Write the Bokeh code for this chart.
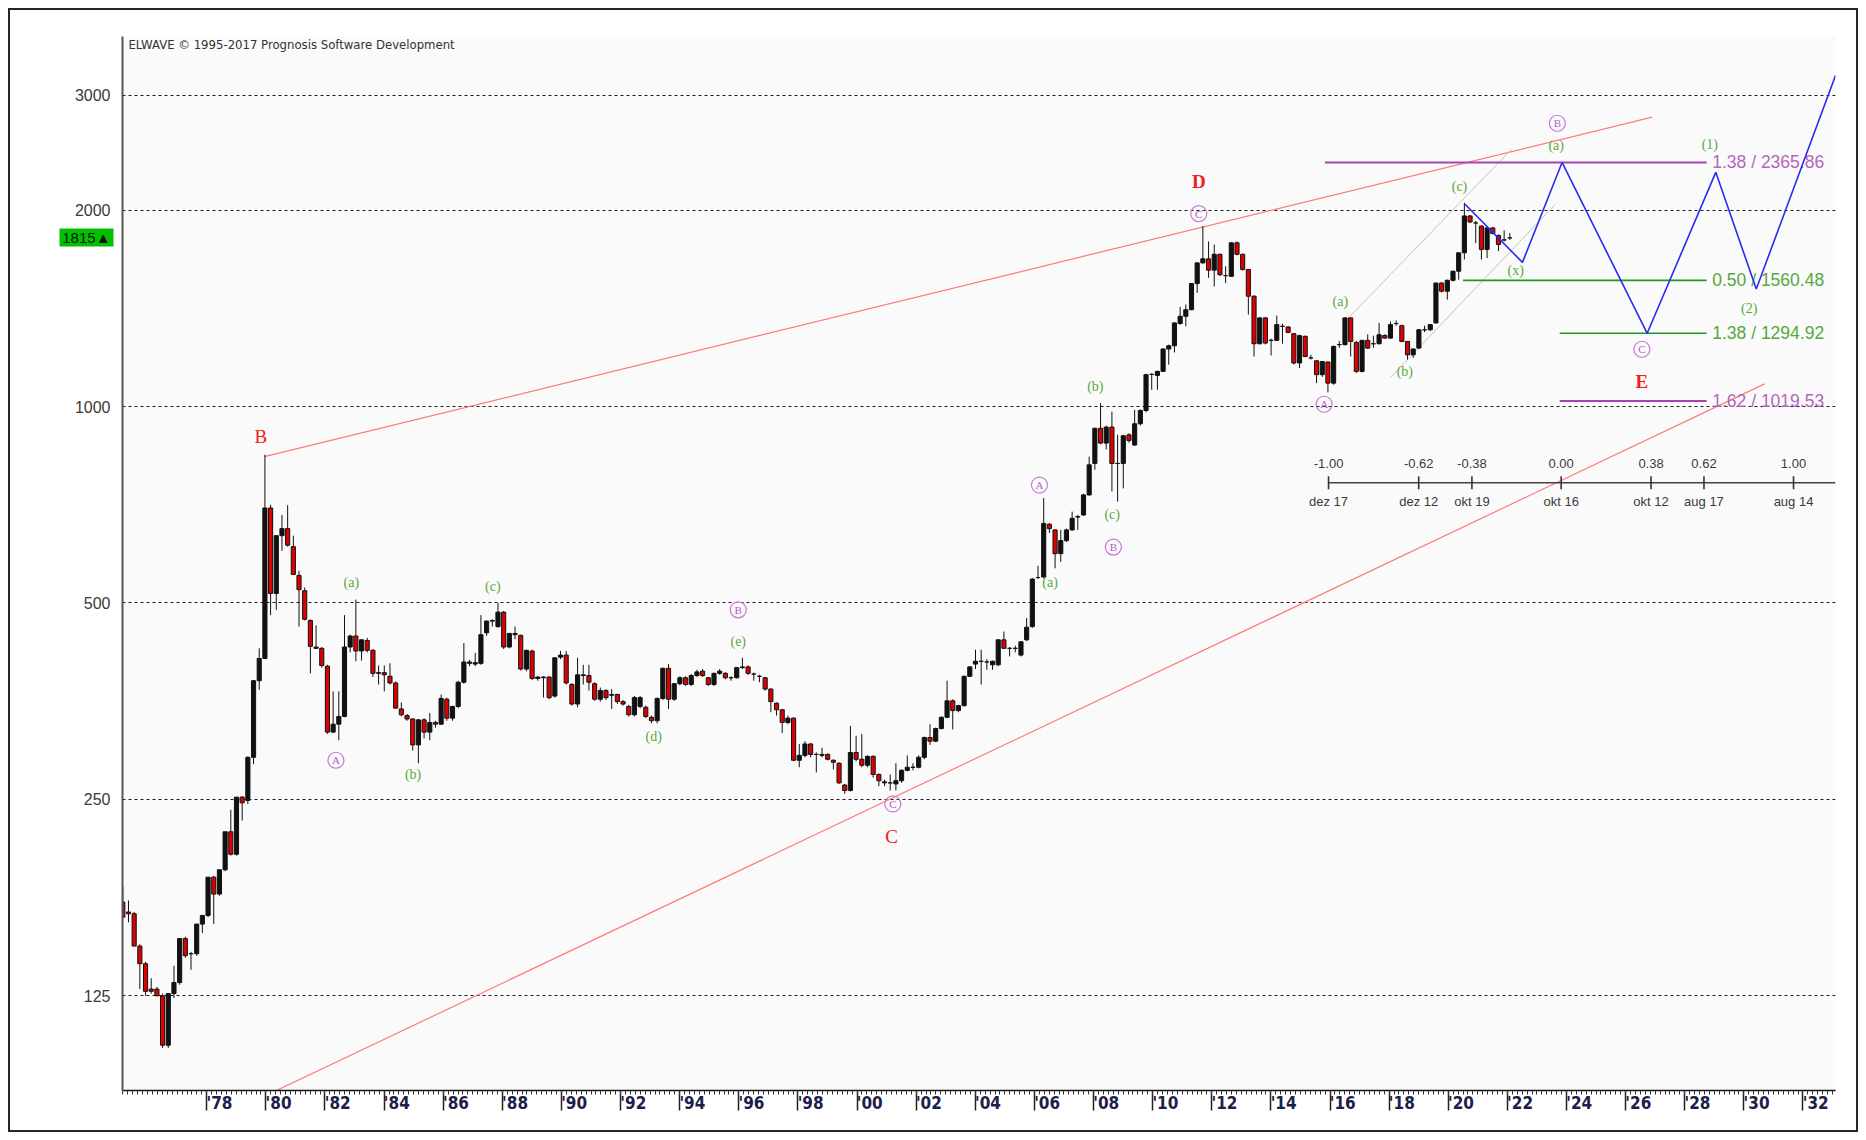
from bokeh.plotting import figure
from bokeh.layouts import column
from bokeh.models import (FixedTicker, ColumnDataSource, Range1d, LinearAxis, LogAxis)
from bokeh.core.properties import value
from bokeh.embed import file_html
from bokeh.resources import INLINE

# ---------------- data ----------------
bar_start = 1975.16          # decimal year of the first bar
bars_per_year = 5.2          # 10-week bars

opens = [174, 168, 167, 149, 140, 128, 128, 125, 105, 126,
         131, 153, 145, 145, 161, 166, 190, 179, 195, 223,
         206, 252, 249, 290, 380, 411, 699, 517, 634, 650,
         610, 551, 522, 470, 428, 426, 400, 317, 326, 335,
         428, 445, 422, 438, 423, 391, 391, 386, 377, 344,
         336, 332, 303, 331, 317, 328, 326, 356, 333, 347,
         378, 406, 403, 404, 450, 469, 460, 484, 428, 449,
         446, 396, 422, 383, 385, 385, 360, 413, 416, 375,
         350, 388, 387, 376, 356, 367, 362, 362, 353, 347,
         337, 347, 346, 334, 330, 357, 397, 356, 376, 384,
         375, 387, 393, 384, 375, 390, 390, 384, 384, 398,
         399, 389, 386, 384, 369, 351, 343, 328, 333, 287,
         292, 304, 293, 293, 293, 287, 284, 263, 258, 295,
         288, 282, 291, 273, 266, 265, 264, 267, 277, 280,
         280, 290, 311, 307, 321, 334, 354, 342, 348, 386,
         403, 407, 406, 402, 402, 439, 426, 426, 416, 439,
         460, 547, 548, 660, 647, 595, 623, 647, 677, 682,
         732, 818, 926, 879, 930, 818, 818, 905, 873, 941,
         986, 1120, 1116, 1132, 1225, 1239, 1340, 1375, 1407, 1543,
         1660, 1684, 1618, 1711, 1587, 1583, 1782, 1711, 1622, 1476,
         1248, 1367, 1263, 1263, 1327, 1324, 1293, 1166, 1281, 1187,
         1175, 1119, 1170, 1086, 1244, 1244, 1367, 1254, 1132, 1263,
         1248, 1248, 1285, 1273, 1340, 1330, 1258, 1200, 1229, 1311,
         1311, 1343, 1546, 1502, 1561, 1612, 1720, 1959, 1911, 1890,
         1741, 1878, 1828, 1800, 1813]

highs = [184, 175, 168, 150, 141, 133, 129, 126, 126, 139,
         153, 154, 146, 161, 166, 190, 191, 195, 223, 241,
         252, 253, 291, 381, 426, 844, 707, 634, 682, 706,
         634, 560, 528, 472, 462, 428, 402, 366, 366, 479,
         447, 506, 440, 442, 425, 401, 401, 404, 379, 352,
         338, 333, 332, 333, 339, 330, 362, 358, 348, 380,
         434, 409, 419, 479, 470, 472, 500, 486, 450, 460,
         447, 424, 424, 386, 386, 386, 412, 422, 422, 377,
         412, 402, 402, 378, 371, 369, 369, 363, 355, 349,
         360, 360, 348, 336, 358, 398, 403, 377, 386, 386,
         389, 395, 396, 385, 391, 396, 392, 386, 399, 412,
         401, 391, 388, 385, 370, 352, 344, 336, 334, 304,
         307, 305, 295, 300, 294, 288, 285, 264, 324, 313,
         315, 292, 292, 274, 268, 273, 284, 278, 292, 284,
         292, 312, 326, 322, 335, 380, 356, 349, 387, 400,
         424, 424, 410, 408, 440, 452, 428, 430, 437, 474,
         546, 570, 724, 663, 648, 647, 650, 690, 682, 735,
         838, 928, 1012, 935, 982, 905, 905, 910, 988, 990,
         1122, 1125, 1135, 1228, 1244, 1345, 1421, 1433, 1546, 1662,
         1890, 1790, 1771, 1715, 1640, 1785, 1790, 1715, 1625, 1480,
         1370, 1372, 1270, 1378, 1340, 1328, 1296, 1288, 1285, 1200,
         1178, 1175, 1172, 1240, 1260, 1370, 1370, 1260, 1265, 1290,
         1284, 1343, 1290, 1350, 1355, 1335, 1260, 1228, 1315, 1330,
         1338, 1548, 1550, 1565, 1615, 1722, 2052, 1965, 1925, 1895,
         1880, 1885, 1835, 1862, 1845]

lows = [165, 162, 149, 128, 125, 126, 125, 104, 104, 124,
        130, 143, 137, 144, 156, 165, 161, 178, 194, 205,
        205, 232, 246, 283, 368, 410, 479, 488, 601, 610,
        552, 460, 470, 390, 425, 398, 315, 316, 308, 334,
        420, 407, 408, 420, 385, 375, 366, 375, 344, 335,
        330, 297, 284, 310, 308, 322, 325, 330, 330, 345,
        376, 400, 400, 402, 445, 460, 458, 425, 426, 440,
        394, 393, 381, 380, 358, 356, 358, 410, 375, 348,
        346, 375, 367, 354, 353, 355, 344, 350, 348, 335,
        335, 345, 333, 327, 327, 355, 344, 354, 374, 373,
        373, 385, 385, 373, 373, 388, 382, 380, 383, 396,
        388, 380, 378, 367, 340, 336, 316, 326, 286, 280,
        290, 290, 275, 290, 287, 278, 264, 255, 257, 286,
        280, 280, 270, 262, 262, 258, 258, 265, 276, 277,
        279, 288, 303, 306, 320, 333, 320, 340, 347, 385,
        396, 375, 395, 395, 400, 425, 414, 420, 414, 437,
        458, 544, 545, 640, 565, 578, 620, 645, 647, 680,
        730, 800, 875, 860, 741, 715, 749, 880, 870, 935,
        980, 1061, 1061, 1130, 1159, 1210, 1335, 1327, 1405, 1493,
        1655, 1575, 1528, 1585, 1546, 1580, 1705, 1615, 1383, 1193,
        1245, 1245, 1197, 1260, 1248, 1295, 1160, 1145, 1190, 1180,
        1086, 1110, 1051, 1080, 1230, 1240, 1193, 1125, 1128, 1225,
        1230, 1245, 1270, 1270, 1330, 1255, 1180, 1187, 1225, 1300,
        1305, 1340, 1495, 1458, 1555, 1565, 1680, 1910, 1780, 1680,
        1689, 1835, 1730, 1790, 1800]

closes = [165, 167, 149, 140, 127, 127, 125, 105, 126, 131,
          153, 144, 145, 161, 166, 190, 179, 195, 223, 206,
          252, 247, 290, 380, 411, 699, 517, 634, 650, 613,
          553, 524, 472, 429, 426, 401, 317, 326, 335, 428,
          445, 422, 439, 423, 390, 390, 388, 377, 345, 337,
          332, 303, 331, 317, 328, 326, 357, 333, 347, 378,
          406, 404, 405, 447, 469, 470, 484, 428, 449, 447,
          396, 423, 383, 385, 384, 358, 412, 416, 377, 350,
          388, 387, 378, 356, 367, 358, 361, 353, 350, 337,
          358, 358, 335, 330, 357, 397, 356, 376, 384, 375,
          387, 392, 387, 375, 390, 393, 384, 384, 398, 399,
          390, 389, 386, 369, 353, 343, 328, 333, 287, 292,
          304, 293, 293, 292, 288, 285, 265, 258, 295, 288,
          282, 291, 273, 267, 265, 265, 267, 277, 280, 280,
          290, 311, 307, 321, 334, 354, 342, 348, 386, 399,
          407, 407, 406, 407, 439, 426, 426, 426, 436, 459,
          544, 547, 662, 650, 595, 623, 647, 674, 678, 732,
          814, 926, 879, 930, 818, 818, 902, 887, 941, 986,
          1119, 1120, 1132, 1225, 1239, 1343, 1375, 1407, 1543, 1660,
          1684, 1618, 1711, 1592, 1587, 1782, 1711, 1622, 1476, 1248,
          1367, 1251, 1263, 1335, 1327, 1299, 1166, 1284, 1193, 1187,
          1119, 1172, 1086, 1236, 1244, 1367, 1258, 1132, 1263, 1229,
          1248, 1288, 1273, 1335, 1340, 1258, 1200, 1225, 1311, 1311,
          1335, 1546, 1502, 1561, 1612, 1720, 1959, 1918, 1911, 1741,
          1878, 1842, 1771, 1800, 1813]

last_price = 1815

# y-axis ticks and x-axis ticks
price_ticks = [125, 250, 500, 1000, 2000, 3000]
year_ticks = list(range(1978, 2033, 2))
year_labels = ["'%02d" % (y % 100) for y in year_ticks]

# trend lines (decimal year, price)
upper_trend_x = [1979.95, 2026.9]
upper_trend_y = [838, 2776]
lower_trend_x = [1979.9, 2030.7]
lower_trend_y = [87.5, 1083]
channel_up_x = [2016.59, 2022.15]
channel_up_y = [1362, 2481]
channel_lo_x = [2018.05, 2023.61]
channel_lo_y = [1108, 2039]

# projected path
proj_x = [2020.56, 2022.51, 2023.85, 2026.73, 2029.05, 2030.42, 2033.1]
proj_y = [2043, 1663, 2365.86, 1294.92, 2285, 1514, 3214]

# Fibonacci target levels
level_values = [2365.86, 1560.48, 1294.92, 1019.53]
level_ratios = ["1.38", "0.50", "1.38", "1.62"]
level_start = [2015.83, 2020.5, 2023.77, 2023.77]
level_end = 2028.74
level_colors = ["#a444b0", "#1f9a1f", "#1f9a1f", "#a444b0"]
level_text_colors = ["#b466bc", "#56a83c", "#56a83c", "#b466bc"]

# wave labels
big_text = ["B", "C", "D", "E"]
big_x = [1979.83, 2001.17, 2011.56, 2026.55]
big_y = [900, 219, 2212, 1092]
big_style = ["normal", "normal", "bold", "bold"]

circ_text = ["A", "B", "C", "A", "B", "C", "A", "B", "C"]
circ_x = [1982.37, 1995.98, 2001.21, 2006.17, 2008.67, 2011.56, 2015.8, 2023.69, 2026.55]
circ_y = [287, 488, 246, 758, 609, 1975, 1008, 2717, 1224]

sub_text = ["(a)", "(b)", "(c)", "(d)", "(e)", "(a)", "(b)", "(c)",
            "(a)", "(b)", "(c)", "(x)", "(a)", "(1)", "(2)"]
sub_x = [1982.89, 1984.98, 1987.68, 1993.12, 1995.98, 2006.53, 2008.06, 2008.63,
         2016.35, 2018.53, 2020.38, 2022.28, 2023.65, 2028.85, 2030.18]
sub_y = [537, 273, 530, 312, 437, 537, 1074, 682,
         1447, 1130, 2175, 1614, 2509, 2520, 1411]

# time-ratio ruler
ratio_labels = ["-1.00", "-0.62", "-0.38", "0.00", "0.38", "0.62", "1.00"]
ratio_dates = ["dez 17", "dez 12", "okt 19", "okt 16", "okt 12", "aug 17", "aug 14"]
ratio_x = [2015.95, 2019.0, 2020.8, 2023.82, 2026.86, 2028.65, 2031.68]
ratio_level = 764

# ---------------- figure ----------------
X0, X1 = 1975.15, 2033.1
Y0, Y1 = 89.5, 3690

NARROW = "'Liberation Sans Narrow', 'DejaVu Sans Condensed', 'Liberation Sans', sans-serif"
SANS = "Liberation Sans"
SERIF = "Liberation Serif"

p = figure(width=1846, height=1120, x_range=Range1d(X0, X1), y_range=Range1d(Y0, Y1),
           y_axis_type="log", output_backend="svg", toolbar_location=None,
           min_border_left=112, min_border_right=21, min_border_top=26,
           min_border_bottom=40)
p.background_fill_color = "#fafafa"
p.border_fill_color = "white"
p.outline_line_color = None

# y axis
p.yaxis.ticker = FixedTicker(ticks=price_ticks)
p.yaxis.major_label_overrides = {v: str(v) for v in price_ticks}
p.yaxis.major_tick_out = 0
p.yaxis.major_tick_in = 0
p.yaxis.minor_tick_out = 0
p.yaxis.minor_tick_in = 0
p.yaxis.axis_line_color = "#555555"
p.yaxis.axis_line_width = 2
p.yaxis.major_label_standoff = 12
p.yaxis.major_label_text_font = SANS
p.yaxis.major_label_text_font_size = "16px"
p.yaxis.major_label_text_color = "#3a3a3a"

p.ygrid.ticker = FixedTicker(ticks=price_ticks)
p.ygrid.grid_line_color = "#1a1a1a"
p.ygrid.grid_line_dash = "3 3"
p.ygrid.grid_line_width = 1
p.xgrid.visible = False

# last-price tag: a second left axis whose single (thick, green) tick forms the box
tag_axis = LogAxis(ticker=FixedTicker(ticks=[last_price], minor_ticks=[]),
                   major_label_overrides={last_price: "%d\u25b2" % last_price},
                   axis_line_color=None,
                   major_tick_in=42, major_tick_out=12,
                   major_tick_line_width=18, major_tick_line_color="#00c000",
                   minor_tick_in=0, minor_tick_out=0,
                   major_label_standoff=-51,
                   major_label_text_font=SANS, major_label_text_font_size="15px",
                   major_label_text_color="#111111")
p.add_layout(tag_axis, "left")

# x axis: tick marks (labels drawn by the second axis below)
minor_ticks = [1975 + k / 6 for k in range(0, 6 * 59) if X0 <= 1975 + k / 6 <= X1]
p.xaxis.ticker = FixedTicker(ticks=year_ticks, minor_ticks=minor_ticks)
p.xaxis.major_label_overrides = {y: "" for y in year_ticks}
p.xaxis.major_label_text_font_size = "1px"
p.xaxis.major_label_standoff = 0
p.xaxis.major_tick_out = 20
p.xaxis.major_tick_in = 0
p.xaxis.major_tick_line_color = "#222222"
p.xaxis.major_tick_line_width = 1.5
p.xaxis.minor_tick_out = 4
p.xaxis.minor_tick_in = 0
p.xaxis.minor_tick_line_color = "#333333"
p.xaxis.axis_line_color = "#111111"
p.xaxis.axis_line_width = 1.5

# x axis: year labels, set just to the right of each year tick
label_shift = 0.43
label_pos = [y + label_shift for y in year_ticks]
year_axis = LinearAxis(ticker=FixedTicker(ticks=label_pos, minor_ticks=[]),
                       major_label_overrides={pos: lab for pos, lab in zip(label_pos, year_labels)},
                       axis_line_color=None, major_tick_in=0, major_tick_out=0,
                       minor_tick_in=0, minor_tick_out=0, major_label_standoff=-18,
                       major_label_text_font=NARROW, major_label_text_font_style="bold",
                       major_label_text_font_size="17px", major_label_text_color="#1c2048")
p.add_layout(year_axis, "below")

# trend lines & channel
p.line(upper_trend_x, upper_trend_y, line_color="#ff7b7b", line_width=1.2)
p.line(lower_trend_x, lower_trend_y, line_color="#ff7b7b", line_width=1.2)
p.line(channel_up_x, channel_up_y, line_color="#c4c4c4", line_width=1)
p.line(channel_lo_x, channel_lo_y, line_color="#c4c4c4", line_width=1)

# levels
for v, x0, col in zip(level_values, level_start, level_colors):
    p.line([x0, level_end], [v, v], line_color=col, line_width=2 if col == "#a444b0" else 1.6)
p.text(x=[level_end + 0.19] * len(level_values), y=level_values,
       text=["%s / %.2f" % (r, v) for r, v in zip(level_ratios, level_values)],
       text_color=level_text_colors, text_font=value(SANS), text_font_size="17.5px",
       text_align="left", text_baseline="middle")

# candles
n = len(opens)
t = [bar_start + i / bars_per_year for i in range(n)]
src = ColumnDataSource(dict(
    t=t, h=highs, l=lows,
    top=[max(o, c) for o, c in zip(opens, closes)],
    bottom=[min(o, c) for o, c in zip(opens, closes)],
    color=["#111111" if c >= o else "#dd0000" for o, c in zip(opens, closes)]))
p.segment(x0="t", y0="l", x1="t", y1="h", source=src, line_color="#111111", line_width=1)
p.vbar(x="t", width=0.14, top="top", bottom="bottom", source=src,
       fill_color="color", line_color="#111111", line_width=1)

# projection
p.line(proj_x, proj_y, line_color="#2a2af0", line_width=1.6)

# ratio ruler
p.line([ratio_x[0], X1], [ratio_level, ratio_level], line_color="#444444", line_width=1.6)
p.scatter(ratio_x, [ratio_level] * len(ratio_x), marker="dash", angle=1.5708, size=13,
          line_color="#333333", line_width=1.6)
p.text(x=ratio_x, y=[ratio_level] * len(ratio_x), text=ratio_labels, y_offset=-19,
       text_font=value(SANS), text_font_size="13px", text_color="#3a3a3a",
       text_align="center", text_baseline="middle")
p.text(x=ratio_x, y=[ratio_level] * len(ratio_x), text=ratio_dates, y_offset=19,
       text_font=value(SANS), text_font_size="13px", text_color="#3a3a3a",
       text_align="center", text_baseline="middle")

# wave labels
for txt, x, y, st in zip(big_text, big_x, big_y, big_style):
    p.text(x=[x], y=[y], text=[txt], text_font=value(SERIF), text_font_size="19px",
           text_font_style=st, text_color="#ee2020", text_align="center", text_baseline="middle")
p.scatter(circ_x, circ_y, marker="circle", size=16, fill_color=None,
          line_color="#c878d8", line_width=1.2)
p.text(x=circ_x, y=circ_y, text=circ_text, text_font=value(SERIF), text_font_size="11px",
       text_color="#b060c8", text_align="center", text_baseline="middle")
p.text(x=sub_x, y=sub_y, text=sub_text, text_font=value(SERIF), text_font_size="14px",
       text_color="#5aa83a", text_align="center", text_baseline="middle")

# title inside plot
p.text(x=[X0 + 0.2], y=[3590], text=["ELWAVE \u00a9 1995-2017 Prognosis Software Development"],
       text_font=value(NARROW), text_font_size="13px", text_color="#333333",
       text_align="left", text_baseline="middle")

# outer frame around the whole chart
root = column(p, styles={"border": "2px solid #262626", "margin": "8px 0 0 8px",
                         "background-color": "white"})

open("out.html", "w").write(file_html(root, INLINE))
